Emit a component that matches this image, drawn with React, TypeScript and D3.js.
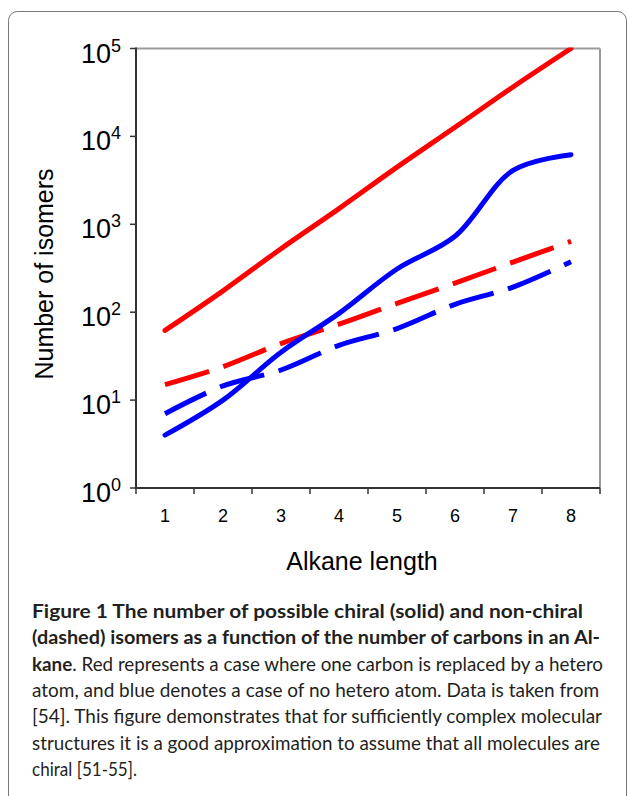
import React from "react";
import * as d3 from "d3";

const categories = [1, 2, 3, 4, 5, 6, 7, 8];
const redSolid = [62, 175, 528, 1508, 4470, 12700, 36500, 100000];
const redDashed = [15, 24, 44, 73, 126, 214, 372, 640];
const blueSolid = [4, 10, 35, 97, 310, 730, 4100, 6200];
const blueDashed = [7, 14.5, 22, 42, 65, 123, 193, 375];
const yTickExps = [0, 1, 2, 3, 4, 5];

const captionLines = [
  { parts: [{ t: "Figure 1 The number of possible chiral (solid) and non-chiral", b: true }], w: 551 },
  { parts: [{ t: "(dashed) isomers as a function of the number of carbons in an Al-", b: true }], w: 568 },
  { parts: [{ t: "kane", b: true }, { t: ". Red represents a case where one carbon is replaced by a hetero", b: false }], w: 571 },
  { parts: [{ t: "atom, and blue denotes a case of no hetero atom. Data is taken from", b: false }], w: 567 },
  { parts: [{ t: "[54]. This figure demonstrates that for sufficiently complex molecular", b: false }], w: 570 },
  { parts: [{ t: "structures it is a good approximation to assume that all molecules are", b: false }], w: 568 },
  { parts: [{ t: "chiral [51-55].", b: false }], w: 105 },
];

const W = 628;
const H = 796;
const left = 136;
const right = 600;
const top = 48.5;
const bottom = 488;

export default function App() {
  const x = d3.scaleBand<number>().domain(categories).range([left, right]);
  const y = d3.scaleLog().domain([1, 100000]).range([bottom, top]);
  const xc = (c: number) => (x(c) as number) + x.bandwidth() / 2;

  const line = d3
    .line<number>()
    .x((_, i) => xc(categories[i]))
    .y((v) => y(v))
    .curve(d3.curveCatmullRom);

  const series = [
    { data: redDashed, color: "#ff0000", dash: "46 15" },
    { data: blueDashed, color: "#0000ff", dash: "46 15" },
    { data: blueSolid, color: "#0000ff", dash: null },
    { data: redSolid, color: "#ff0000", dash: null },
  ];

  const xTicks = [...categories.map((c) => x(c) as number), right];

  return (
    <svg
      width={W}
      height={H}
      style={{ position: "absolute", left: 0, top: 0, display: "block", background: "#fff" }}
    >
      <rect x={8.5} y={11.5} width={618} height={900} rx={9} fill="none" stroke="#777" strokeWidth={1} />

      <defs>
        <clipPath id="plotclip">
          <rect x={left} y={top - 1} width={right - left} height={bottom - top + 1} />
        </clipPath>
      </defs>

      {/* plot frame */}
      <line x1={left} x2={right} y1={top} y2={top} stroke="#9a9a9a" strokeWidth={2} />
      <line x1={right} x2={right} y1={top} y2={bottom} stroke="#9a9a9a" strokeWidth={2} />

      {/* series */}
      <g clipPath="url(#plotclip)">
        {series.map((s, i) => (
          <path
            key={i}
            d={line(s.data) as string}
            fill="none"
            stroke={s.color}
            strokeWidth={5}
            strokeDasharray={s.dash ?? undefined}
            strokeLinecap={s.dash ? "butt" : "round"}
            strokeLinejoin="round"
          />
        ))}
      </g>

      {/* axes */}
      <line x1={left} x2={left} y1={top - 1} y2={bottom + 1} stroke="#333" strokeWidth={2} />
      <line x1={left - 1} x2={right} y1={bottom} y2={bottom} stroke="#333" strokeWidth={2} />
      {yTickExps.map((e) => (
        <line key={e} x1={left - 6} x2={left} y1={y(Math.pow(10, e))} y2={y(Math.pow(10, e))} stroke="#333" strokeWidth={1.5} />
      ))}
      {xTicks.map((t, i) => (
        <line key={i} x1={t} x2={t} y1={bottom} y2={bottom + 6} stroke="#333" strokeWidth={1.5} />
      ))}

      {/* y tick labels */}
      {yTickExps.map((e) => (
        <text
          key={e}
          x={121}
          y={y(Math.pow(10, e)) + 14}
          textAnchor="end"
          fontFamily="'Liberation Sans', Arial, sans-serif"
          fontSize={27}
          fill="#000"
        >
          10
          <tspan fontSize={18} dy={-11}>{e}</tspan>
        </text>
      ))}

      {/* x tick labels */}
      {categories.map((c) => (
        <text
          key={c}
          x={xc(c)}
          y={522}
          textAnchor="middle"
          fontFamily="'Liberation Sans', Arial, sans-serif"
          fontSize={18}
          fill="#000"
        >
          {c}
        </text>
      ))}

      <text
        x={362}
        y={570}
        textAnchor="middle"
        fontFamily="'Liberation Sans', Arial, sans-serif"
        fontSize={25}
        fill="#000"
      >
        Alkane length
      </text>
      <text
        transform="translate(53,274) rotate(-90)"
        textAnchor="middle"
        fontFamily="'Liberation Sans', Arial, sans-serif"
        fontSize={25}
        fill="#000"
      >
        Number of isomers
      </text>

      {/* caption */}
      {captionLines.map((ln, i) => (
        <text
          key={i}
          x={32}
          y={618 + i * 26.3}
          fontFamily="Lato, 'Open Sans', sans-serif"
          fontSize={19}
          fill="#231f20"
          textLength={ln.w}
          lengthAdjust="spacingAndGlyphs"
        >
          {ln.parts.map((p, j) => (
            <tspan key={j} fontWeight={p.b ? 700 : 400}>
              {p.t}
            </tspan>
          ))}
        </text>
      ))}
    </svg>
  );
}
